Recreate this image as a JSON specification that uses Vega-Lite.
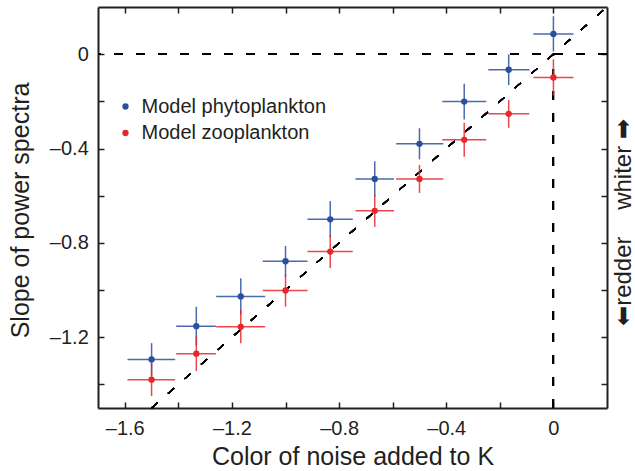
{
  "$schema": "https://vega.github.io/schema/vega-lite/v6.json",
  "autosize": {"type": "none"},
  "padding": {"left": 98, "top": 7, "right": 28, "bottom": 63},
  "width": 509,
  "height": 401,
  "background": "white",
  "config": {"view": {"stroke": null}, "font": "Liberation Sans"},
  "datasets": {
    "pts": [
      {"series": "Model phytoplankton", "x": -1.5, "xlo": -1.59, "xhi": -1.412, "y": -1.294, "ylo": -1.363, "yhi": -1.225},
      {"series": "Model phytoplankton", "x": -1.333, "xlo": -1.408, "xhi": -1.26, "y": -1.153, "ylo": -1.235, "yhi": -1.071},
      {"series": "Model phytoplankton", "x": -1.167, "xlo": -1.259, "xhi": -1.076, "y": -1.027, "ylo": -1.104, "yhi": -0.95},
      {"series": "Model phytoplankton", "x": -1.0, "xlo": -1.085, "xhi": -0.918, "y": -0.878, "ylo": -0.943, "yhi": -0.813},
      {"series": "Model phytoplankton", "x": -0.833, "xlo": -0.918, "xhi": -0.749, "y": -0.7, "ylo": -0.777, "yhi": -0.623},
      {"series": "Model phytoplankton", "x": -0.667, "xlo": -0.739, "xhi": -0.595, "y": -0.529, "ylo": -0.604, "yhi": -0.454},
      {"series": "Model phytoplankton", "x": -0.5, "xlo": -0.587, "xhi": -0.411, "y": -0.38, "ylo": -0.446, "yhi": -0.314},
      {"series": "Model phytoplankton", "x": -0.333, "xlo": -0.415, "xhi": -0.251, "y": -0.201, "ylo": -0.277, "yhi": -0.125},
      {"series": "Model phytoplankton", "x": -0.167, "xlo": -0.243, "xhi": -0.09, "y": -0.066, "ylo": -0.131, "yhi": -0.001},
      {"series": "Model phytoplankton", "x": 0.0, "xlo": -0.075, "xhi": 0.075, "y": 0.086, "ylo": 0.011, "yhi": 0.161},
      {"series": "Model zooplankton", "x": -1.5, "xlo": -1.59, "xhi": -1.412, "y": -1.38, "ylo": -1.449, "yhi": -1.311},
      {"series": "Model zooplankton", "x": -1.333, "xlo": -1.408, "xhi": -1.26, "y": -1.27, "ylo": -1.343, "yhi": -1.197},
      {"series": "Model zooplankton", "x": -1.167, "xlo": -1.259, "xhi": -1.076, "y": -1.156, "ylo": -1.226, "yhi": -1.086},
      {"series": "Model zooplankton", "x": -1.0, "xlo": -1.085, "xhi": -0.918, "y": -1.002, "ylo": -1.07, "yhi": -0.934},
      {"series": "Model zooplankton", "x": -0.833, "xlo": -0.918, "xhi": -0.749, "y": -0.837, "ylo": -0.907, "yhi": -0.767},
      {"series": "Model zooplankton", "x": -0.667, "xlo": -0.739, "xhi": -0.595, "y": -0.664, "ylo": -0.732, "yhi": -0.596},
      {"series": "Model zooplankton", "x": -0.5, "xlo": -0.587, "xhi": -0.411, "y": -0.529, "ylo": -0.588, "yhi": -0.47},
      {"series": "Model zooplankton", "x": -0.333, "xlo": -0.415, "xhi": -0.251, "y": -0.363, "ylo": -0.435, "yhi": -0.291},
      {"series": "Model zooplankton", "x": -0.167, "xlo": -0.243, "xhi": -0.09, "y": -0.253, "ylo": -0.312, "yhi": -0.194},
      {"series": "Model zooplankton", "x": 0.0, "xlo": -0.075, "xhi": 0.075, "y": -0.099, "ylo": -0.176, "yhi": -0.022}
    ]
  },
  "data": {"name": "pts"},
  "resolve": {"axis": {"x": "independent", "y": "independent"}},
  "layer": [
    {
      "mark": {"type": "rule", "color": "#000000", "strokeWidth": 1.2, "strokeDash": [9, 13]},
      "encoding": {
        "y": {"datum": 0, "type": "quantitative", "scale": {"domain": [-1.5, 0.2], "nice": false, "zero": false}, "axis": null}
      }
    },
    {
      "mark": {"type": "rule", "color": "#000000", "strokeWidth": 1.2, "strokeDash": [9, 13]},
      "encoding": {
        "x": {"datum": 0, "type": "quantitative", "scale": {"domain": [-1.7, 0.2], "nice": false, "zero": false}, "axis": null},
        "y": {"datum": -1.5, "type": "quantitative", "scale": {"domain": [-1.5, 0.2], "nice": false, "zero": false}, "axis": null},
        "y2": {"datum": 0}
      }
    },
    {
      "mark": {"type": "rule", "color": "#000000", "strokeWidth": 1.2, "strokeDash": [8, 14]},
      "encoding": {
        "x": {"datum": -1.5, "type": "quantitative", "scale": {"domain": [-1.7, 0.2], "nice": false, "zero": false},
          "axis": {"orient": "top", "values": [-1.6, -1.4, -1.2, -1.0, -0.8, -0.6, -0.4, -0.2, 0], "labels": false, "title": null, "grid": false,
            "tickSize": -6, "tickWidth": 1.5, "tickColor": "#231f20", "domainColor": "#231f20", "domainWidth": 2}},
        "y": {"datum": -1.5, "type": "quantitative", "scale": {"domain": [-1.5, 0.2], "nice": false, "zero": false},
          "axis": {"orient": "right", "values": [-1.4, -1.2, -1.0, -0.8, -0.6, -0.4, -0.2, 0], "labels": false, "grid": false,
            "tickSize": -6, "tickWidth": 1.5, "tickColor": "#231f20", "domainColor": "#231f20", "domainWidth": 2,
            "title": "\u2b05redder\u00a0\u00a0\u00a0\u00a0whiter\u00a0\u27a1", "titleFont": "Liberation Sans", "titleFontSize": 24, "titleFontWeight": "normal",
            "titleColor": "#231f20", "titleAngle": 270, "titleBaseline": "alphabetic", "titleAlign": "center", "titleX": 23, "titleY": 215}},
        "x2": {"datum": 0.2},
        "y2": {"datum": 0.2}
      }
    },
    {
      "transform": [{"filter": "datum.series == 'Model phytoplankton'"}],
      "mark": {"type": "rule", "strokeWidth": 1.5, "opacity": 0.85, "color": "#2b4f9f"},
      "encoding": {
        "x": {"field": "xlo", "type": "quantitative", "scale": {"domain": [-1.7, 0.2], "nice": false, "zero": false}, "axis": null},
        "x2": {"field": "xhi"},
        "y": {"field": "y", "type": "quantitative", "scale": {"domain": [-1.5, 0.2], "nice": false, "zero": false}, "axis": null}
      }
    },
    {
      "transform": [{"filter": "datum.series == 'Model phytoplankton'"}],
      "mark": {"type": "rule", "strokeWidth": 1.5, "opacity": 0.85, "color": "#2b4f9f"},
      "encoding": {
        "x": {"field": "x", "type": "quantitative", "scale": {"domain": [-1.7, 0.2], "nice": false, "zero": false}, "axis": null},
        "y": {"field": "ylo", "type": "quantitative", "scale": {"domain": [-1.5, 0.2], "nice": false, "zero": false}, "axis": null},
        "y2": {"field": "yhi"}
      }
    },
    {
      "transform": [{"filter": "datum.series == 'Model zooplankton'"}],
      "mark": {"type": "rule", "strokeWidth": 1.5, "opacity": 0.85, "color": "#e8272d"},
      "encoding": {
        "x": {"field": "xlo", "type": "quantitative", "scale": {"domain": [-1.7, 0.2], "nice": false, "zero": false}, "axis": null},
        "x2": {"field": "xhi"},
        "y": {"field": "y", "type": "quantitative", "scale": {"domain": [-1.5, 0.2], "nice": false, "zero": false}, "axis": null}
      }
    },
    {
      "transform": [{"filter": "datum.series == 'Model zooplankton'"}],
      "mark": {"type": "rule", "strokeWidth": 1.5, "opacity": 0.85, "color": "#e8272d"},
      "encoding": {
        "x": {"field": "x", "type": "quantitative", "scale": {"domain": [-1.7, 0.2], "nice": false, "zero": false}, "axis": null},
        "y": {"field": "ylo", "type": "quantitative", "scale": {"domain": [-1.5, 0.2], "nice": false, "zero": false}, "axis": null},
        "y2": {"field": "yhi"}
      }
    },
    {
      "mark": {"type": "circle", "size": 40, "opacity": 1},
      "encoding": {
        "x": {"field": "x", "type": "quantitative", "scale": {"domain": [-1.7, 0.2], "nice": false, "zero": false},
          "axis": {"orient": "bottom", "values": [-1.6, -1.4, -1.2, -1.0, -0.8, -0.6, -0.4, -0.2, 0], "grid": false,
            "tickSize": -6, "tickWidth": 1.5, "tickColor": "#231f20", "domainColor": "#231f20", "domainWidth": 2,
            "labelFont": "Liberation Sans", "labelFontSize": 20, "labelColor": "#231f20", "labelPadding": 32.3, "labelBaseline": "alphabetic",
            "labelFlush": false, "labelOverlap": false,
            "labelExpr": "round(datum.value*10) % 4 == 0 ? (datum.value == 0 ? '0' : '\u2013' + format(abs(datum.value), '.1f')) : ''",
            "title": "Color of noise added to K", "titleFont": "Liberation Sans", "titleFontSize": 25, "titleFontWeight": "normal", "titleColor": "#231f20",
            "titleBaseline": "alphabetic", "titleX": 254.5, "titleY": 56}},
        "y": {"field": "y", "type": "quantitative", "scale": {"domain": [-1.5, 0.2], "nice": false, "zero": false},
          "axis": {"orient": "left", "values": [-1.4, -1.2, -1.0, -0.8, -0.6, -0.4, -0.2, 0], "grid": false,
            "tickSize": -6, "tickWidth": 1.5, "tickColor": "#231f20", "domainColor": "#231f20", "domainWidth": 2,
            "labelFont": "Liberation Sans", "labelFontSize": 20, "labelColor": "#231f20", "labelPadding": 15.7,
            "labelFlush": false, "labelOverlap": false,
            "labelExpr": "round(datum.value*10) % 4 == 0 ? (datum.value == 0 ? '0' : '\u2013' + format(abs(datum.value), '.1f')) : ''",
            "title": "Slope of power spectra", "titleFont": "Liberation Sans", "titleFontSize": 25, "titleFontWeight": "normal", "titleColor": "#231f20",
            "titleAngle": 270, "titleBaseline": "alphabetic", "titleAlign": "center", "titleX": -69.5, "titleY": 203}},
        "color": {"field": "series", "type": "nominal",
          "scale": {"domain": ["Model phytoplankton", "Model zooplankton"], "range": ["#2b4f9f", "#e8272d"]},
          "legend": {"orient": "none", "legendX": 17.5, "legendY": 89.5, "title": null, "symbolType": "circle", "symbolSize": 40,
            "symbolStrokeWidth": 0, "labelFont": "Liberation Sans", "labelFontSize": 20, "labelColor": "#231f20", "labelOffset": 6, "labelLimit": 400, "rowPadding": 6.5}}
      }
    }
  ]
}
